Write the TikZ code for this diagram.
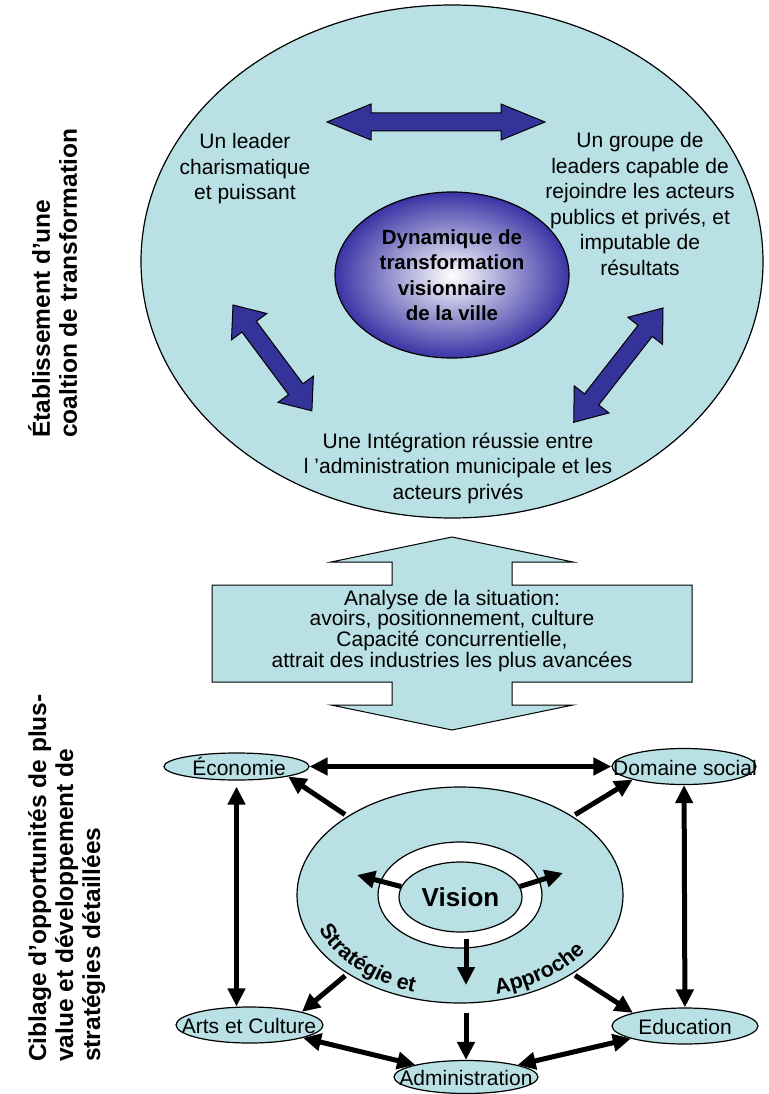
\documentclass[tikz,border=0pt]{standalone}
\usepackage{fontspec}
\setmainfont{Liberation Sans}
\usetikzlibrary{shapes.geometric,arrows.meta,decorations.text}

\definecolor{paleblue}{RGB}{185,224,228}
\definecolor{arrowblue}{RGB}{51,51,153}
\definecolor{dynblue}{RGB}{58,52,165}

\newcommand{\curvefont}{\fontsize{21.5}{21.5}\selectfont\bfseries}

% double block arrow: start, angle, length, head length, head half width
\newcommand{\bigarrow}[5]{%
  \begin{scope}[shift={#1}, rotate=#2]
    \draw[bluearr] (0,0) -- (#4,#5) -- (#4,9) -- ({#3-#4},9) -- ({#3-#4},#5)
      -- (#3,0) -- ({#3-#4},-#5) -- ({#3-#4},-9) -- (#4,-9) -- (#4,-#5) -- cycle;
  \end{scope}}

\tikzset{
  bluearr/.style={draw=black, fill=arrowblue, line width=1pt, line join=miter},
  ell/.style={ellipse, draw=black, fill=paleblue, line width=1.2pt, inner sep=0pt},
  txt/.style={align=center, inner sep=0pt, font=\fontsize{21}{25.5}\selectfont},
  side/.style={rotate=90, anchor=north west, align=left, inner sep=0pt,
    font=\fontsize{24.5}{27}\selectfont\bfseries},
  link/.style={line width=5pt},
}

\begin{document}
\begin{tikzpicture}[x=1pt, y=1pt, >={Triangle[length=18pt,width=17pt]}]
\useasboundingbox (0,0) rectangle (768,-1094);
\fill[white] (0,0) rectangle (768,-1094);

% side titles
\node[side] (coalT) at (28,-438) {Établissement d’une\\coaltion de transformation};
\node[side] (ciblT) at (28,-1062) {Ciblage d’opportunités de plus-\\value et développement de\\stratégies détaillées};

% coalition
\node[ell, minimum width=622, minimum height=513] (coal) at (452,-261.5) {};
\node[ellipse, draw=black, line width=1.2pt, inner color=white, outer color=dynblue,
  minimum width=234, minimum height=166, inner sep=0pt, align=center,
  font=\fontsize{20.5}{25.5}\selectfont\bfseries] (dyn) at (452,-275)
  {Dynamique de\\transformation\\visionnaire\\de la ville};
\node[txt] (lead) at (245,-169) {Un leader\\charismatique\\et puissant};
\node[txt] (grp) at (640,-204) {Un groupe de\\leaders capable de\\rejoindre les acteurs\\publics et privés, et\\imputable de\\résultats};
\node[txt] (integ) at (458,-468) {Une Intégration réussie entre\\l ’administration municipale et les\\acteurs privés};
\bigarrow{(327,-122)}{0}{218}{44}{18}
\bigarrow{(233,-305)}{-53.3}{132}{27}{22}
\bigarrow{(663,-308)}{-128}{145}{29}{22}

% analyse
\draw[fill=paleblue, line width=1pt] (452,-537) -- (573,-562) -- (512,-562) -- (512,-585)
  -- (692,-585) -- (692,-682) -- (512,-682) -- (512,-705) -- (573,-705) -- (452,-730)
  -- (331,-705) -- (392,-705) -- (392,-682) -- (212,-682) -- (212,-585) -- (392,-585)
  -- (392,-562) -- (331,-562) -- cycle;
\node[txt, font=\fontsize{21}{19.5}\selectfont] (anal) at (452,-631)
  {Analyse de la situation:\\avoirs, positionnement, culture\\Capacité concurrentielle,\\attrait des industries les plus avancées};

% strategie
\node[ell, minimum width=326, minimum height=216] (strat) at (460,-895) {};
\node[ellipse, draw=black, fill=white, line width=1.2pt, minimum width=164, minimum height=106] (ring) at (460,-895) {};
\node[ell, minimum width=123, minimum height=70, font=\fontsize{26}{26}\selectfont\bfseries] (vis) at (460.5,-897) {Vision};
\path[decorate, decoration={text along path, text align=center, text={|\curvefont|Stratégie et}}]
  (strat.center) ++(186:150 and 102) arc[start angle=186, end angle=262, x radius=150, y radius=102];
\path[decorate, decoration={text along path, text align=center, text={|\curvefont|Approche}}]
  (strat.center) ++(279:150 and 102) arc[start angle=279, end angle=333, x radius=150, y radius=102];

\coordinate (visL) at (357,-875);
\coordinate (visR) at (563,-873);
\coordinate (visD) at (466,-985);
\draw[link,->] (vis.170) -- (visL);
\draw[link,->] (vis.10) -- (visR);
\draw[link,->] ([xshift=5.5pt,yshift=-6pt]vis.south) -- (visD);

% domains
\node[ell, minimum width=145, minimum height=27] (eco) at (236.5,-766.5) {};
\node[ell, minimum width=144, minimum height=36] (soc) at (684,-766.5) {};
\node[ell, minimum width=147, minimum height=36] (arts) at (249.5,-1025) {};
\node[ell, minimum width=146, minimum height=36] (edu) at (685,-1026) {};
\node[ell, minimum width=144, minimum height=33] (adm) at (466,-1077) {};
\node[txt] (ecoT) at (239,-766) {Économie};
\node[txt] (socT) at (685,-768) {Domaine social};
\node[txt] (artsT) at (249,-1026) {Arts et Culture};
\node[txt] (eduT) at (685,-1027) {Education};
\node[txt] (admT) at (466,-1078) {Administration};

\draw[link,<->] (eco) -- (soc);
\draw[link,<->,shorten <=6pt] (eco.south) -- (eco.south |- arts.north);
\draw[link,<->] (soc) -- (edu);
\draw[link,<->] (arts) -- (adm);
\draw[link,<->] (adm) -- (edu);
\draw[link,->,shorten <=3pt] (strat.145) -- (eco.south east);
\draw[link,->,shorten <=3pt] (strat.35) -- (soc.south west);
\draw[link,->,shorten <=3pt] (strat.215) -- (arts.north east);
\draw[link,->,shorten <=3pt] (strat.325) -- (edu.north west);
\draw[link,->,shorten <=9pt] (strat.south -| adm.north) -- (adm.north);
\end{tikzpicture}
\end{document}
